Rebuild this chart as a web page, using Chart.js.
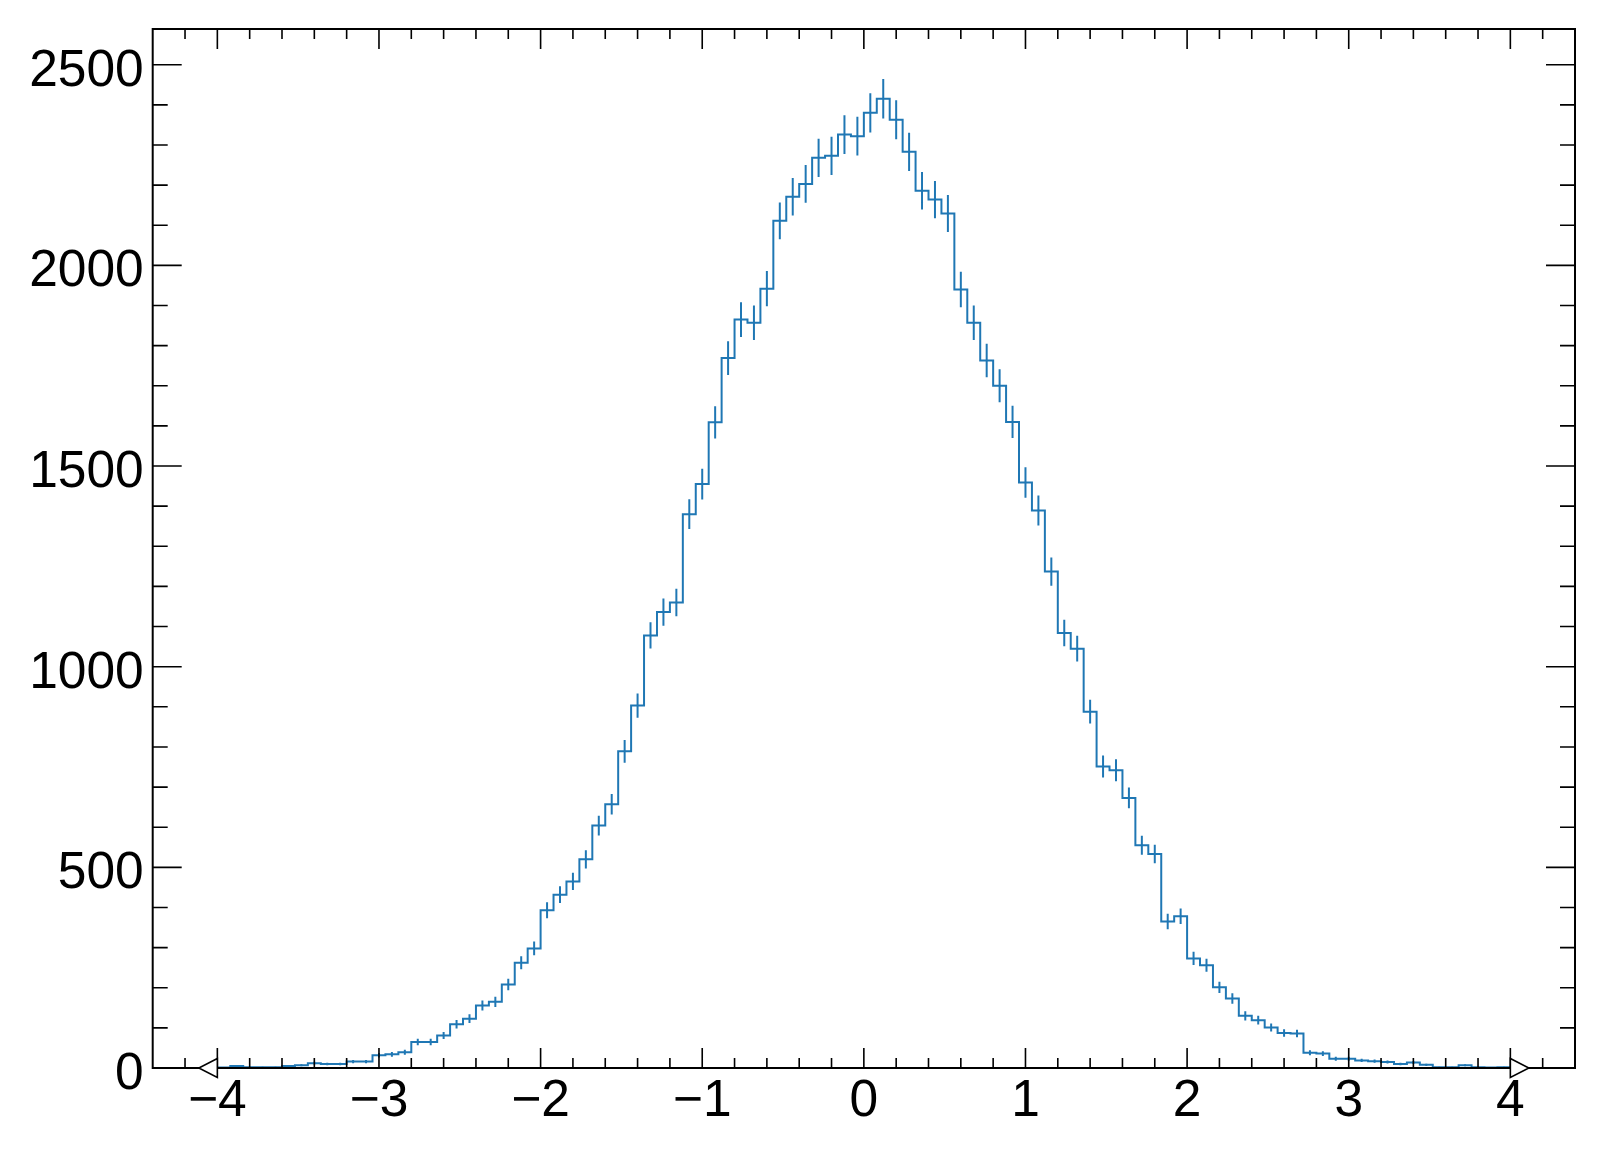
<!DOCTYPE html>
<html>
<head>
<meta charset="utf-8">
<script src="https://cdn.jsdelivr.net/npm/chart.js@4.4.0/dist/chart.umd.min.js"></script>
<style>
  html, body { margin: 0; padding: 0; background: #fff; }
  canvas { display: block; }
</style>
</head>
<body>
<canvas id="michart" width="1605" height="1158"></canvas>
<script>
// datos del histograma: 100 bins entre -4 y 4
const x_min = -4
const x_max = 4
const rango_x = [-4.4, 4.4]
const rango_y = [0, 2589]
const conteos = [
  1, 5, 2, 2, 2, 5, 7, 12, 10, 10,
  16, 16, 32, 34, 39, 65, 65, 81, 109, 123,
  156, 165, 208, 262, 298, 393, 432, 465, 520, 604,
  657, 789, 903, 1078, 1136, 1160, 1380, 1455, 1609, 1769,
  1865, 1857, 1942, 2111, 2171, 2203, 2268, 2273, 2326, 2322,
  2380, 2415, 2363, 2283, 2186, 2164, 2129, 1940, 1857, 1763,
  1700, 1610, 1459, 1389, 1237, 1084, 1045, 888, 751, 742,
  673, 555, 533, 365, 378, 273, 256, 201, 173, 130,
  119, 101, 87, 86, 38, 36, 23, 23, 19, 17,
  15, 10, 14, 8, 2, 2, 7, 2, 1, 2
]
const valores_x = [-4, -3, -2, -1, 0, 1, 2, 3, 4]
const etiquetas_x = ["\u22124", "\u22123", "\u22122", "\u22121", "0", "1", "2", "3", "4"]
const valores_y = [0, 500, 1000, 1500, 2000, 2500]
const etiquetas_y = ["0", "500", "1000", "1500", "2000", "2500"]

const azul = 'rgb(31, 119, 180)'
const n_bins = conteos.length
const ancho_bin = (x_max - x_min) / n_bins

// linea escalonada (bordes de los bins)
let linea = conteos.map((c, i) => ({ x: x_min + i * ancho_bin, y: c }))
linea.push({ x: x_max, y: conteos[n_bins - 1] })

// barras de error sqrt(N) en el centro de cada bin
let errores = []
conteos.forEach((c, i) => {
  let centro = x_min + (i + 0.5) * ancho_bin
  let e = Math.sqrt(c)
  errores.push({ x: centro, y: c - e }, { x: centro, y: c + e }, { x: centro, y: null })
})

const marco = {
  id: 'marco',
  afterDraw(chart) {
    const { ctx, chartArea: a, scales: { x, y } } = chart
    ctx.save()
    ctx.strokeStyle = '#000'
    ctx.lineWidth = 2
    ctx.strokeRect(a.left, a.top, a.right - a.left, a.bottom - a.top)

    ctx.lineWidth = 1.6
    ctx.beginPath()
    for (let k = -21; k <= 21; k++) {
      let px = x.getPixelForValue(k * 0.2)
      let largo = k % 5 == 0 ? 20 : 10
      ctx.moveTo(px, a.bottom)
      ctx.lineTo(px, a.bottom - largo)
      ctx.moveTo(px, a.top)
      ctx.lineTo(px, a.top + largo)
    }
    for (let v = 0; v <= rango_y[1]; v += 100) {
      let py = y.getPixelForValue(v)
      let largo = v % 500 == 0 ? 29 : 15
      ctx.moveTo(a.left, py)
      ctx.lineTo(a.left + largo, py)
      ctx.moveTo(a.right, py)
      ctx.lineTo(a.right - largo, py)
    }
    ctx.stroke()

    // flechas en -4 y 4
    ctx.fillStyle = '#fff'
    ;[[x_min, -1], [x_max, 1]].forEach(([v, dir]) => {
      let px = x.getPixelForValue(v)
      ctx.beginPath()
      ctx.moveTo(px, a.bottom - 9.5)
      ctx.lineTo(px + dir * 18.5, a.bottom)
      ctx.lineTo(px, a.bottom + 9.5)
      ctx.closePath()
      ctx.fill()
      ctx.stroke()
    })

    ctx.font = '51.5px "Liberation Sans", Arial, sans-serif'
    ctx.fillStyle = '#000'
    ctx.textAlign = 'center'
    ctx.textBaseline = 'alphabetic'
    valores_x.forEach((v, i) => ctx.fillText(etiquetas_x[i], x.getPixelForValue(v), a.bottom + 48))
    ctx.textAlign = 'right'
    valores_y.forEach((v, i) => ctx.fillText(etiquetas_y[i], a.left - 9, y.getPixelForValue(v) + 21))
    ctx.restore()
  }
}

const config = {
  type: 'line',
  data: {
    datasets: [
      { data: linea, borderColor: azul, borderWidth: 2, stepped: 'before', pointRadius: 0, fill: false },
      { data: errores, borderColor: azul, borderWidth: 2, pointRadius: 0, fill: false, spanGaps: false }
    ]
  },
  options: {
    responsive: false,
    animation: false,
    devicePixelRatio: 1,
    layout: { padding: { left: 152.7, right: 30, top: 29, bottom: 90 } },
    plugins: { legend: { display: false }, tooltip: { enabled: false } },
    scales: {
      x: { type: 'linear', min: rango_x[0], max: rango_x[1], display: false },
      y: { min: rango_y[0], max: rango_y[1], display: false }
    }
  },
  plugins: [marco]
}

const chart1 = new Chart(document.getElementById('michart'), config)
</script>
</body>
</html>
